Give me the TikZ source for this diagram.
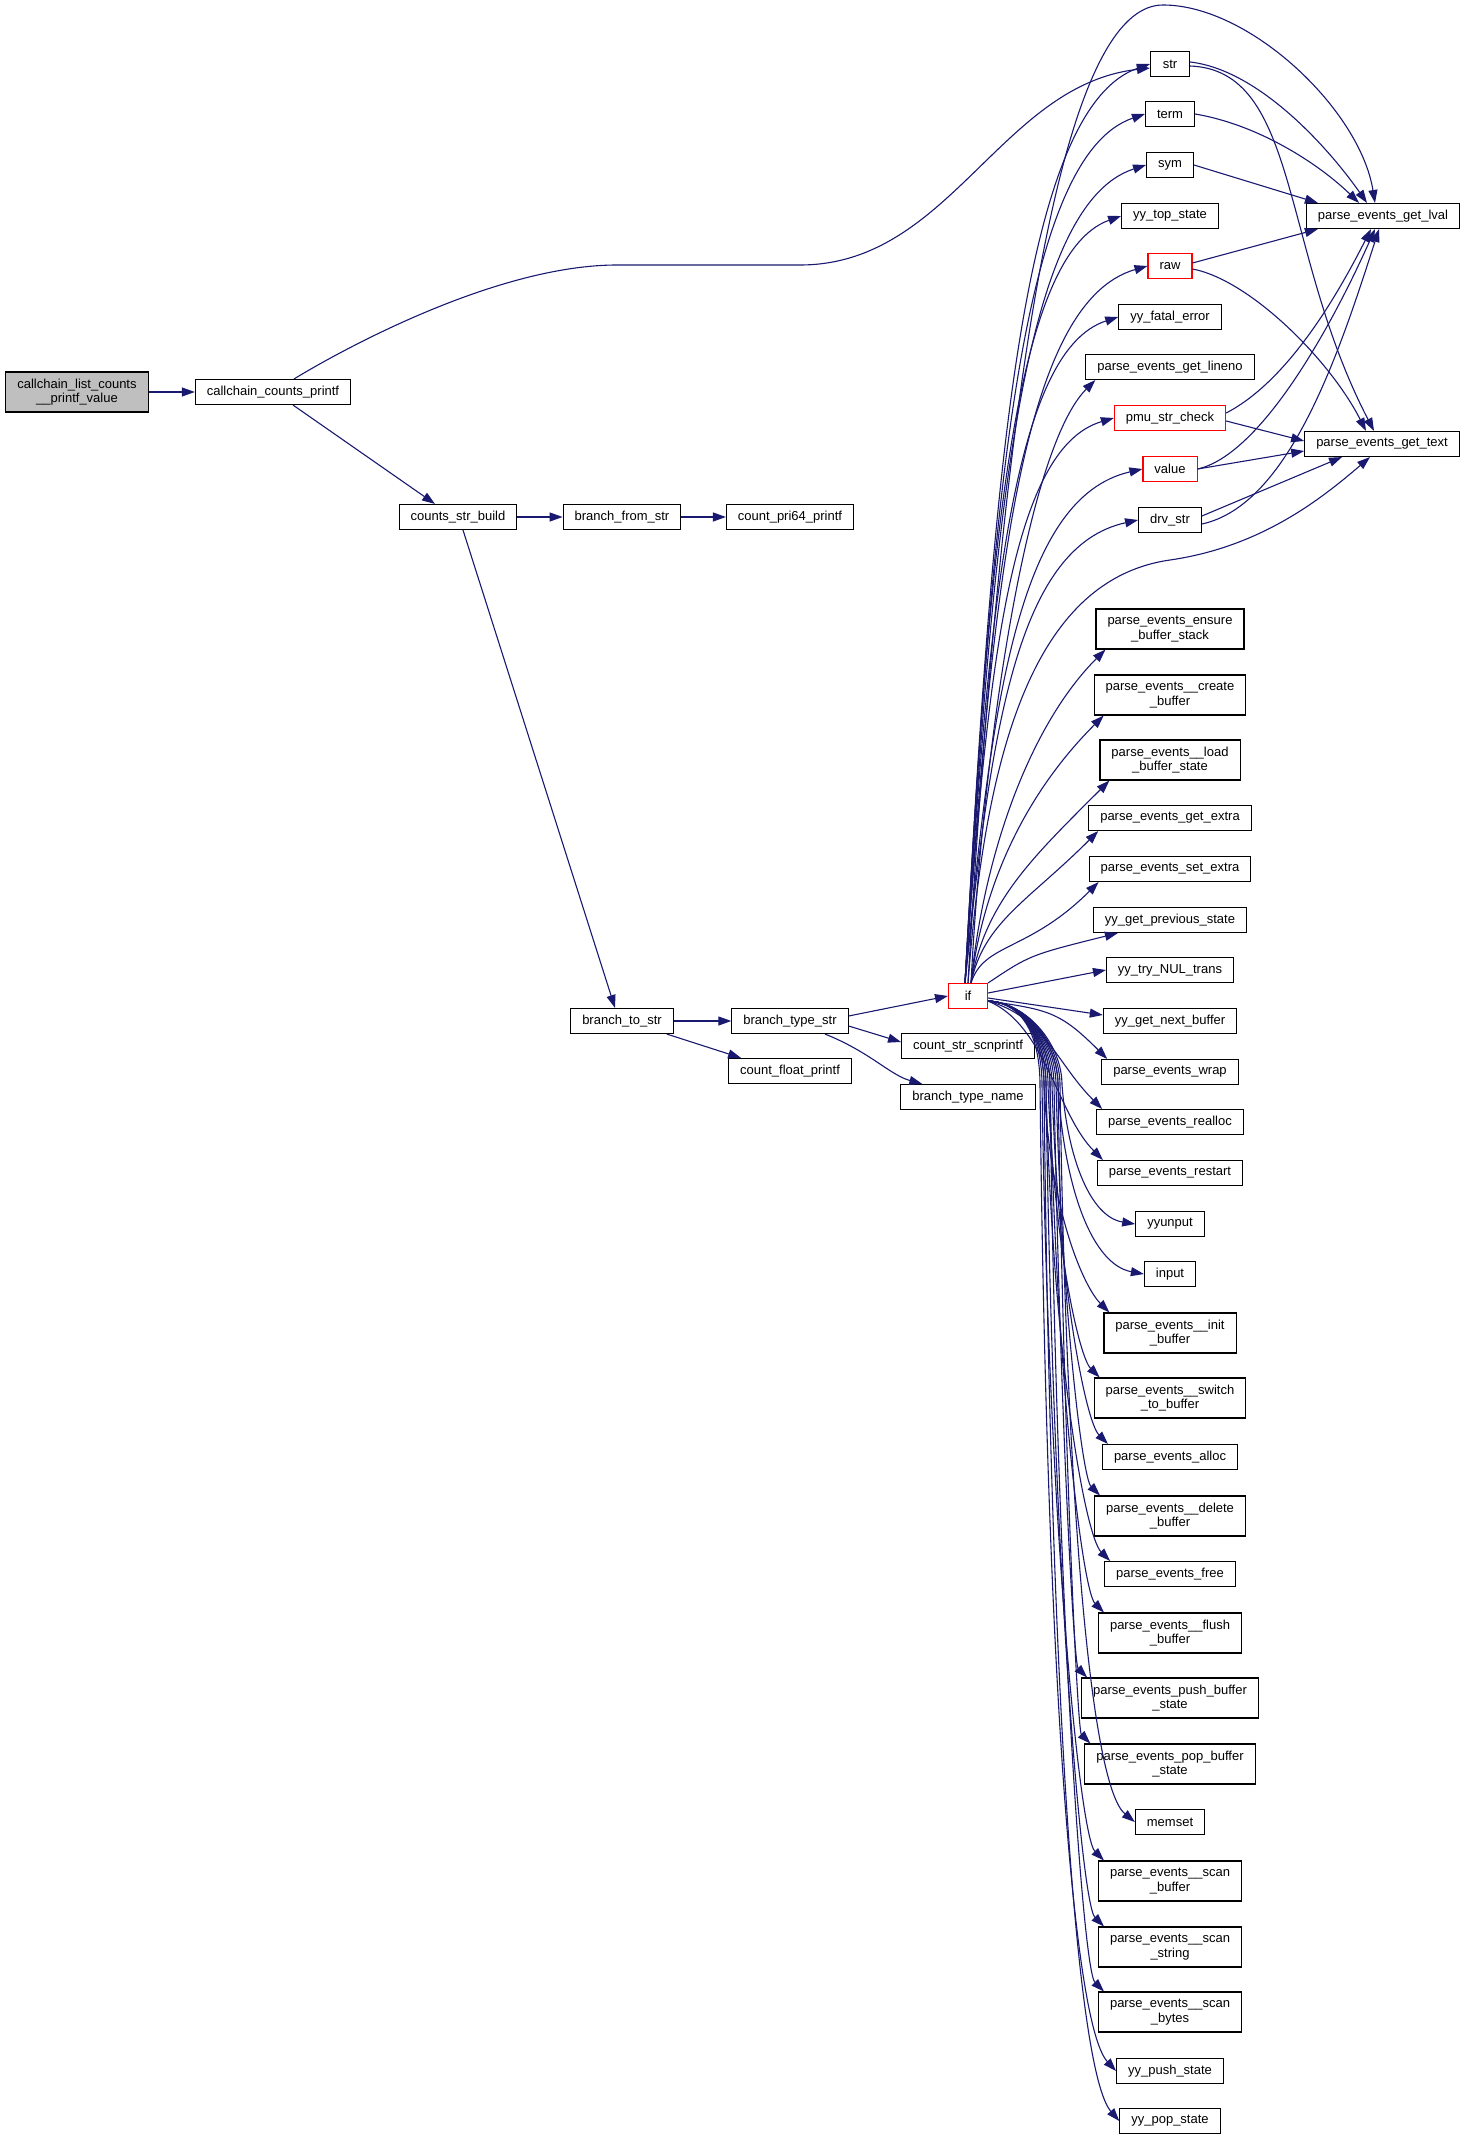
\documentclass[tikz,border=0pt]{standalone}
\usepackage{fontspec}
\setmainfont{Liberation Sans}
\usetikzlibrary{arrows.meta,calc}
\definecolor{edgeblue}{HTML}{191970}
\definecolor{rootgray}{HTML}{BFBFBF}
\begin{document}
\begin{tikzpicture}[x=1pt, y=-1pt,
  fn/.style={draw=black, line width=1.1pt, fill=white, font=\fontsize{13}{14.5}\selectfont, align=center, inner xsep=11.5pt, inner ysep=2pt, minimum width=39pt, minimum height=25pt},
  fntwo/.style={fn, minimum height=40pt},
  fnred/.style={fn, draw=red},
  fnroot/.style={fntwo, fill=rootgray},
  call/.style={draw=edgeblue, line width=1.1pt, -{Triangle[length=13pt,width=9pt]}}]
\useasboundingbox (0,0) rectangle (1465,2140);

\node[fnroot] (root) at (77,392) {callchain\_list\_counts\\\_\_printf\_value};
\node[fn] (ccp) at (273,392) {callchain\_counts\_printf};
\node[fn] (build) at (458,517) {counts\_str\_build};
\node[fn] (from) at (622,517) {branch\_from\_str};
\node[fn] (pri64) at (790,517) {count\_pri64\_printf};
\node[fn] (tostr) at (622,1021) {branch\_to\_str};
\node[fn] (typestr) at (790,1021) {branch\_type\_str};
\node[fn] (floatp) at (790,1071) {count\_float\_printf};
\node[fnred] (ifnode) at (968,996) {if};
\node[fn] (scnp) at (968,1046) {count\_str\_scnprintf};
\node[fn] (tname) at (968,1097) {branch\_type\_name};

\node[fn] (str) at (1170,64) {str};
\node[fn] (term) at (1170,114) {term};
\node[fn] (sym) at (1170,165) {sym};
\node[fn] (ytop) at (1170,216) {yy\_top\_state};
\node[fnred] (raw) at (1170,266) {raw};
\node[fn] (fatal) at (1170,317) {yy\_fatal\_error};
\node[fn] (lineno) at (1170,367) {parse\_events\_get\_lineno};
\node[fnred] (pmu) at (1170,418) {pmu\_str\_check};
\node[fnred] (value) at (1170,469) {value};
\node[fn] (drv) at (1170,520) {drv\_str};
\node[fn] (lval) at (1383,216) {parse\_events\_get\_lval};
\node[fn] (text) at (1382,444) {parse\_events\_get\_text};

\node[fntwo] (ensure) at (1170,629) {parse\_events\_ensure\\\_buffer\_stack};
\node[fntwo] (create) at (1170,695) {parse\_events\_\_create\\\_buffer};
\node[fntwo] (load) at (1170,760) {parse\_events\_\_load\\\_buffer\_state};
\node[fn] (getx) at (1170,818) {parse\_events\_get\_extra};
\node[fn] (setx) at (1170,869) {parse\_events\_set\_extra};
\node[fn] (prev) at (1170,920) {yy\_get\_previous\_state};
\node[fn] (nul) at (1170,970) {yy\_try\_NUL\_trans};
\node[fn] (next) at (1170,1021) {yy\_get\_next\_buffer};
\node[fn] (wrap) at (1170,1072) {parse\_events\_wrap};
\node[fn] (realloc) at (1170,1122) {parse\_events\_realloc};
\node[fn] (restart) at (1170,1173) {parse\_events\_restart};
\node[fn] (yyunput) at (1170,1224) {yyunput};
\node[fn] (input) at (1170,1274) {input};
\node[fntwo] (init) at (1170,1333) {parse\_events\_\_init\\\_buffer};
\node[fntwo] (switch) at (1170,1398) {parse\_events\_\_switch\\\_to\_buffer};
\node[fn] (alloc) at (1170,1457) {parse\_events\_alloc};
\node[fntwo] (delete) at (1170,1516) {parse\_events\_\_delete\\\_buffer};
\node[fn] (free) at (1170,1574) {parse\_events\_free};
\node[fntwo] (flush) at (1170,1633) {parse\_events\_\_flush\\\_buffer};
\node[fntwo] (push) at (1170,1698) {parse\_events\_push\_buffer\\\_state};
\node[fntwo] (pop) at (1170,1764) {parse\_events\_pop\_buffer\\\_state};
\node[fn] (memset) at (1170,1822) {memset};
\node[fntwo] (sbuf) at (1170,1881) {parse\_events\_\_scan\\\_buffer};
\node[fntwo] (sstr) at (1170,1947) {parse\_events\_\_scan\\\_string};
\node[fntwo] (sbytes) at (1170,2012) {parse\_events\_\_scan\\\_bytes};
\node[fn] (ypush) at (1170,2071) {yy\_push\_state};
\node[fn] (ypop) at (1170,2121) {yy\_pop\_state};

\draw[call] (root) -- (ccp);
\draw[call] ([xshift=21pt]ccp.north) .. controls (350,345) and (500,265) .. (617,265) -- (800,265)
  .. controls (950,265) and (1000,85) .. ([yshift=-4pt]str.west);
\draw[call] ([xshift=20pt]ccp.south) -- ([xshift=-23pt]build.north);
\draw[call] (build) -- (from);
\draw[call] (from) -- (pri64);
\draw[call] ([xshift=5pt]build.south) -- ([xshift=-7pt]tostr.north);
\draw[call] (tostr) -- (typestr);
\draw[call] ([xshift=-7pt]tostr.south east) -- ([xshift=13pt]floatp.north west);
\draw[call] ([yshift=5pt]typestr.east) -- (ifnode.west);
\draw[call] ([yshift=-5pt]typestr.east) -- ([yshift=4pt]scnp.west);
\draw[call] ([xshift=35pt]typestr.south) .. controls (870,1052) and (890,1075) .. ([xshift=22pt]tname.north west);

\foreach \t in {str,term,sym,ytop,raw,fatal,pmu,value,drv}
  \draw[call] let \p1=([xshift=-3pt]ifnode.north), \p2=(\t.west) in (\p1)
    .. controls ({\x1+0.15*((\x2)-(\x1))},{\y1+0.55*((\y2)-(\y1))})
    and ({\x1+0.3*((\x2)-(\x1))},{\y2-0.04*((\y2)-(\y1))-8pt}) .. (\p2);
\foreach \t in {lineno,ensure,create,load,getx,setx}
  \draw[call] let \p1=([xshift=3pt]ifnode.north), \p2=([xshift=10pt]\t.south west) in (\p1)
    .. controls ({\x1+0.1*((\x2)-(\x1))},{\y1+0.4*((\y2)-(\y1))})
    and ({\x2-0.55*((\x2)-(\x1))},{\y2-0.55*((\x2)-(\x1))}) .. (\p2);
\draw[call] (ifnode.north east) .. controls (1030,955) .. ([xshift=25pt]prev.south west);
\draw[call] ([yshift=3pt]ifnode.east) -- (nul.west);
\draw[call] ([yshift=-2pt]ifnode.east) -- ([yshift=6pt]next.west);
\foreach \t in {wrap,realloc,restart}
  \draw[call] let \p1=([yshift=-5pt]ifnode.east), \p2=([xshift=6pt]\t.north west) in (\p1)
    .. controls ({\x1+0.5*((\x2)-(\x1))},{\y1+0.15*((\y2)-(\y1))})
    and ({\x2-0.4*((\x2)-(\x1))},{\y2+0.4*((\x2)-(\x1))}) .. (\p2);
\foreach \t/\bx in {init/1044,switch/1048,alloc/1052,delete/1056,free/1046,flush/1050,push/1054,pop/1058,sbuf/1042,sstr/1046,sbytes/1050}
  \draw[call] let \p1=(\bx,1085), \p2=([xshift=6pt]\t.north west) in ([yshift=-5pt]ifnode.east)
    .. controls +(40,2) and +(0,-40) .. (\p1)
    .. controls ({\x1+6pt},{\y1+0.55*((\y2)-(\y1))})
    and ({\x2-0.4*((\x2)-(\x1))},{\y2+0.4*((\x2)-(\x1))}) .. (\p2);
\foreach \t/\bx in {yyunput/1062,input/1058,memset/1060,ypush/1040,ypop/1044}
  \draw[call] let \p1=(\bx,1085), \p2=(\t.west) in ([yshift=-5pt]ifnode.east)
    .. controls +(40,2) and +(0,-40) .. (\p1)
    .. controls ({\x1+6pt},{\y1+0.55*((\y2)-(\y1))})
    and ({\x2-0.6*((\x2)-(\x1))},{\y2-0.05*((\y2)-(\y1))}) .. (\p2);
\draw[call] (ifnode.north) .. controls (1010,250) and (1080,5) .. (1163,5)
  .. controls (1250,5) and (1360,110) .. ([xshift=-8pt]lval.north);
\draw[call] (ifnode.north) .. controls (985,760) and (1030,580) .. (1170,560)
  .. controls (1260,547) and (1320,500) .. ([xshift=-12pt]text.south);

\draw[call] ([yshift=2pt]str.east) .. controls (1260,70) and (1330,150) .. ([xshift=-16pt]lval.north);
\draw[call] ([yshift=-2pt]str.east) .. controls (1300,70) and (1280,250) .. ([xshift=-8pt]text.north);
\draw[call] (term.east) .. controls (1260,125) and (1320,165) .. ([xshift=-24pt]lval.north);
\draw[call] (sym.east) -- ([xshift=12pt]lval.north west);
\draw[call] ([yshift=3pt]raw.east) -- ([xshift=12pt]lval.south west);
\draw[call] ([yshift=-3pt]raw.east) .. controls (1250,280) and (1330,360) .. ([xshift=-16pt]text.north);
\draw[call] ([yshift=5pt]pmu.east) .. controls (1290,380) and (1340,290) .. ([xshift=-12pt]lval.south);
\draw[call] ([yshift=-3pt]pmu.east) -- ([yshift=3pt]text.west);
\draw[call] (value.east) .. controls (1260,455) and (1330,330) .. ([xshift=-8pt]lval.south);
\draw[call] (value.east) -- ([yshift=-7pt]text.west);
\draw[call] ([yshift=-4pt]drv.east) .. controls (1290,505) and (1340,350) .. ([xshift=-4pt]lval.south);
\draw[call] ([yshift=4pt]drv.east) -- ([xshift=-40pt]text.south);
\end{tikzpicture}
\end{document}
